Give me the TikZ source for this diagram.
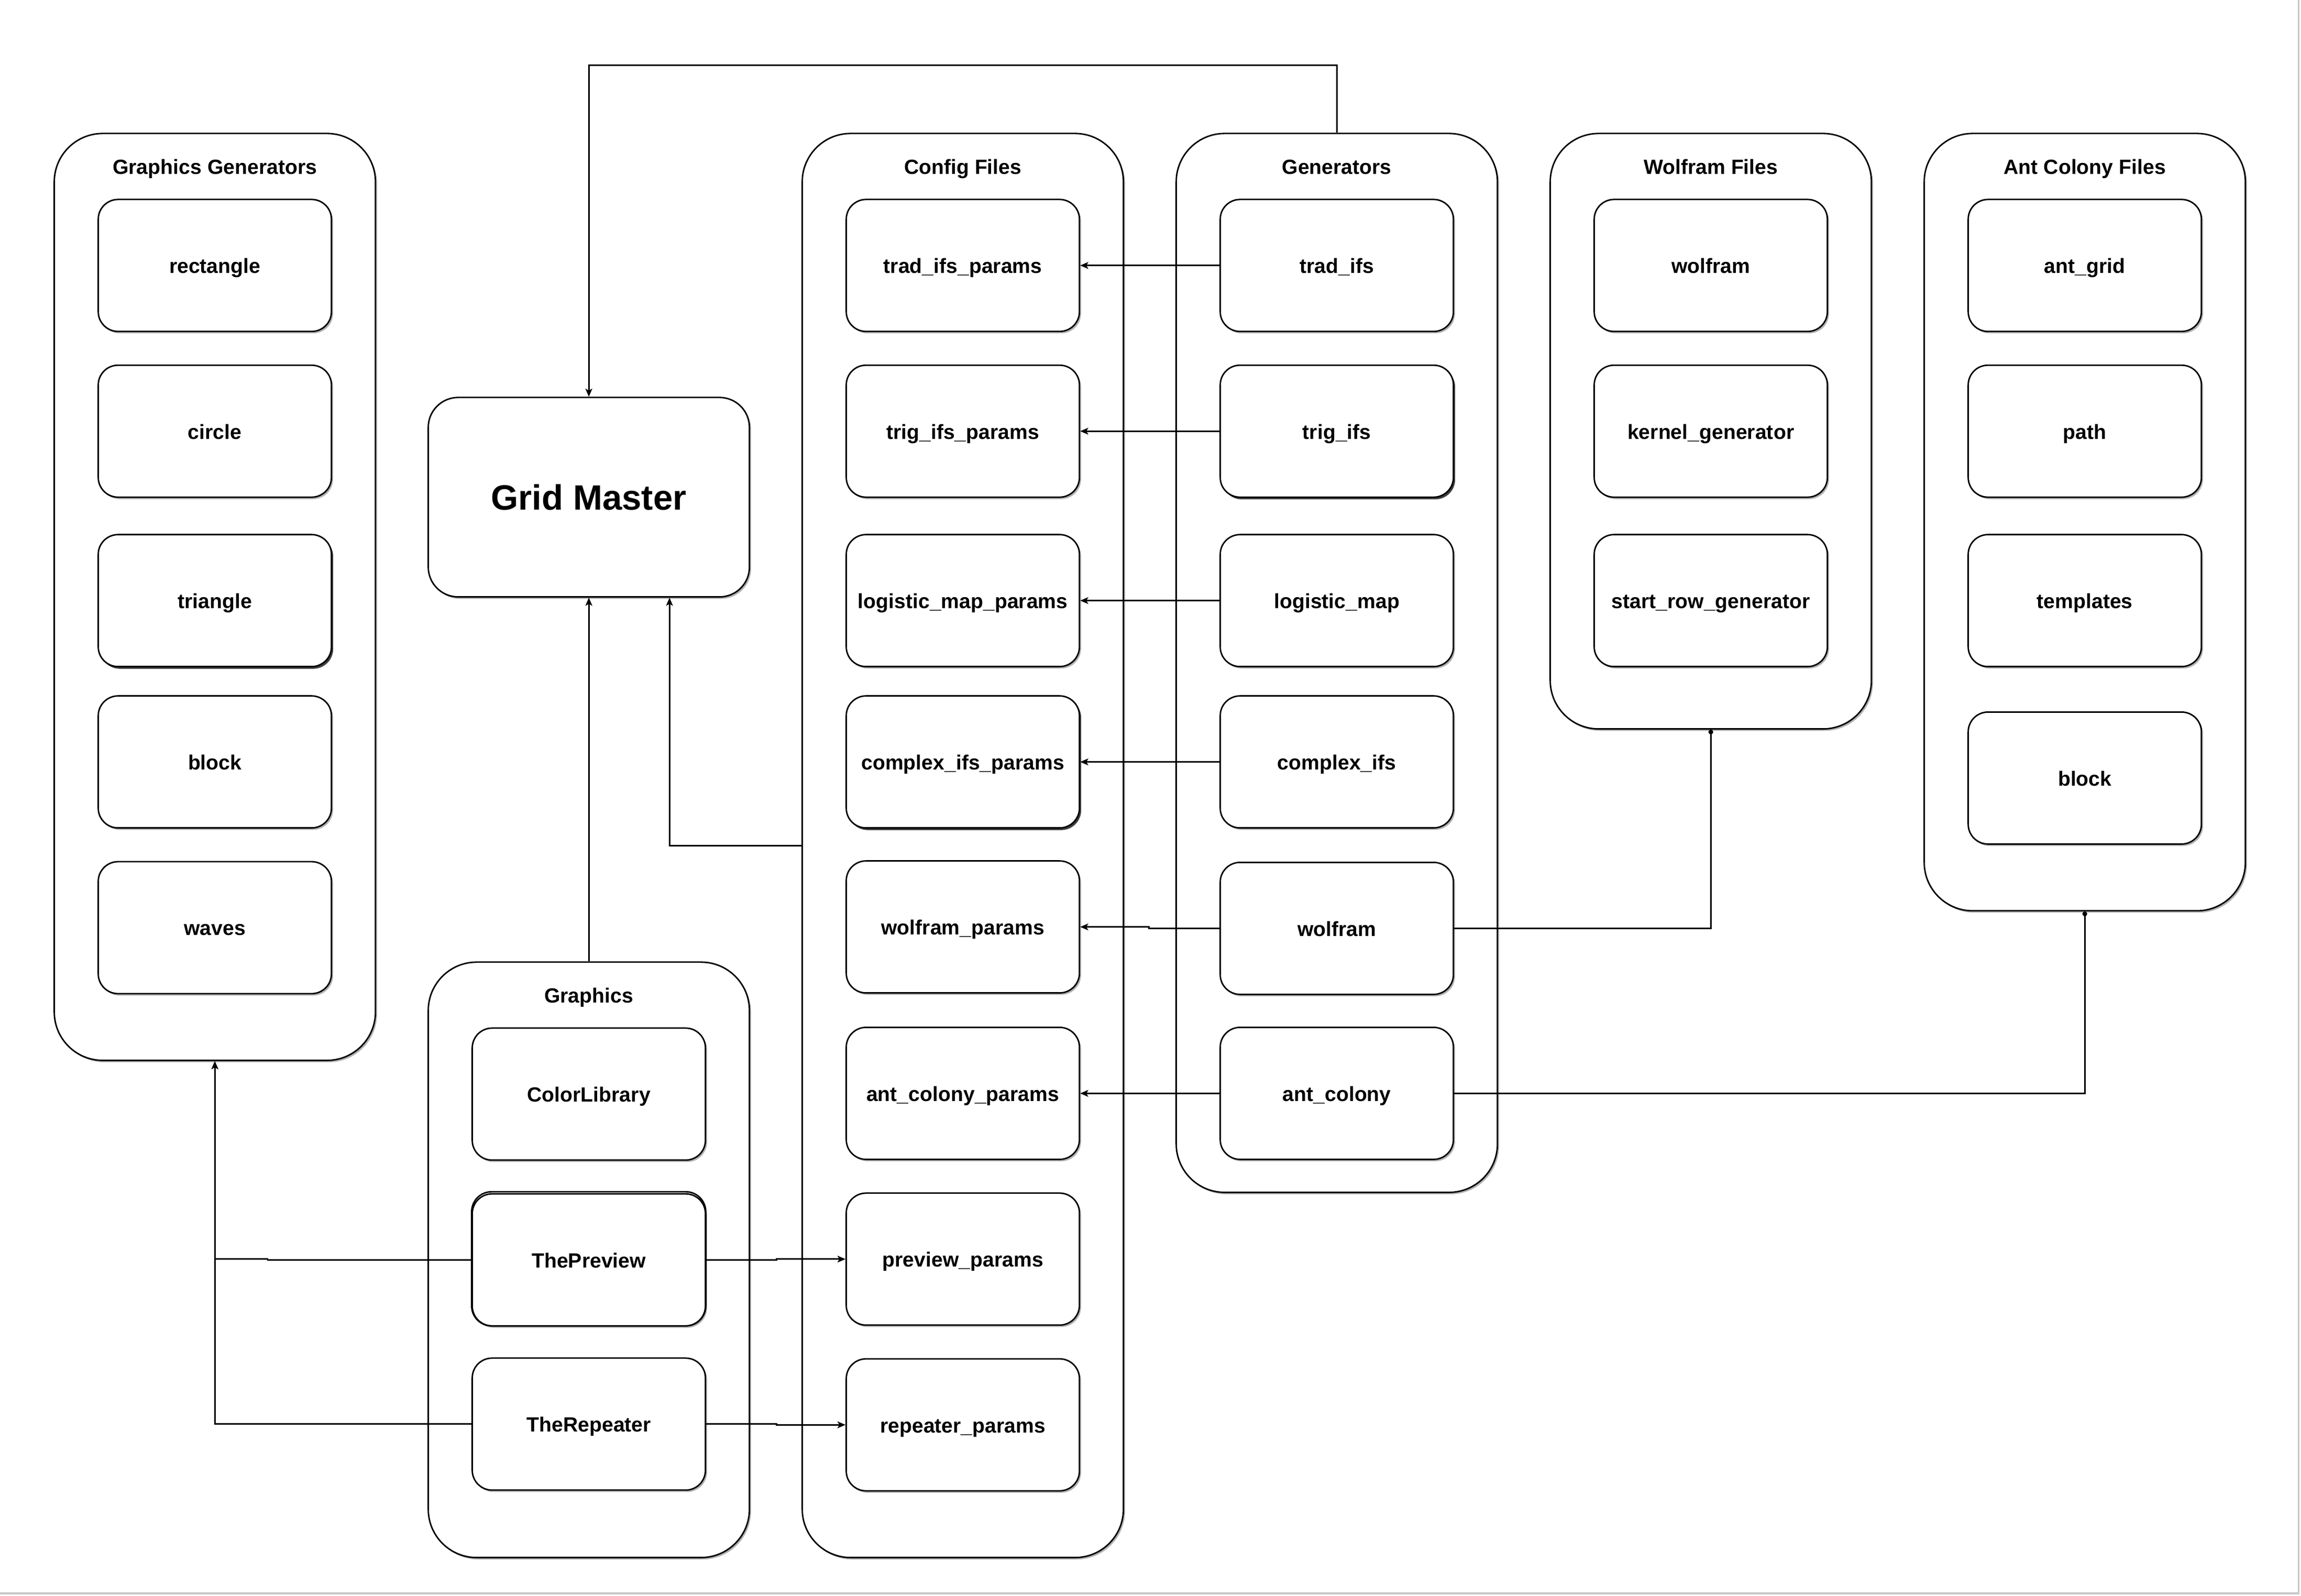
\documentclass[tikz,border=0pt]{standalone}
\usepackage{fontspec}
\setmainfont{Liberation Sans}
\usetikzlibrary{arrows.meta,shadows,calc}
\begin{document}
\begin{tikzpicture}[x=1pt,y=-1pt,
  rbox/.style={draw=black, line width=1pt, fill=white, rounded corners=#1, inner sep=0pt,
     drop shadow={shadow xshift=1.1pt, shadow yshift=-1.3pt, opacity=0.3, fill=black}},
  cbox/.style={rbox=13.5pt, minimum width=159pt, minimum height=90pt,
     font=\fontsize{14}{16}\selectfont\bfseries, text height=11.8pt, text depth=1.2pt},
  darksh/.style={drop shadow={shadow xshift=1.2pt, shadow yshift=-1.5pt, opacity=0.65, fill=black}},
  cont/.style={rbox=33pt, minimum width=219pt, minimum height=#1},
  ttl/.style={font=\fontsize{14}{16}\selectfont\bfseries, inner sep=0pt,
     text height=11.8pt, text depth=1.2pt},
  conn/.style={draw=black, line width=1pt},
  arr/.style={conn, -{Stealth[length=5.5pt, width=4.6pt, inset=1.3pt]}},
  dotend/.style={conn, -{Circle[length=3.2pt]}}
]
\useasboundingbox (0,0) rectangle (1568.93,1087.86);
\fill[white] (0,0) rectangle (1568.93,1087.86);
% page frame
\draw[color=black!22, line width=1.1pt] (0,1086.4) -- (1567.4,1086.4) -- (1567.4,0);

% containers
\node[cont=632] (gg)  at (146.5,407)   {};
\node[cont=971] (cfg) at (656.5,576.5) {};
\node[cont=722] (gen) at (911.5,452)   {};
\node[cont=406] (wf)  at (1166.5,294)  {};
\node[cont=530] (ac)  at (1421.5,356)  {};
\node[cont=406] (gfx) at (401.5,859)   {};
\node[rbox=20.4pt, minimum width=219pt, minimum height=136pt,
      font=\fontsize{24}{28}\selectfont\bfseries] (gm) at (401.5,339) {Grid Master};

% titles
\node[ttl] (ggt)  at (146.5,113.5)  {Graphics Generators};
\node[ttl] (cfgt) at (656.5,113.5)  {Config Files};
\node[ttl] (gent) at (911.5,113.5)  {Generators};
\node[ttl] (wft)  at (1166.5,113.5) {Wolfram Files};
\node[ttl] (act)  at (1421.5,113.5) {Ant Colony Files};
\node[ttl] (gfxt) at (401.5,678.5)  {Graphics};

% Graphics Generators
\node[cbox] (g-rect) at (146.5,181)   {rectangle};
\node[cbox] (g-circ) at (146.5,294)   {circle};
\node[cbox, darksh] (g-tri)  at (146.5,409.5) {triangle};
\node[cbox] (g-blk)  at (146.5,519.5) {block};
\node[cbox] (g-wav)  at (146.5,632.5) {waves};

% Config Files
\node[cbox] (c1) at (656.5,181)   {trad\_ifs\_params};
\node[cbox] (c2) at (656.5,294)   {trig\_ifs\_params};
\node[cbox] (c3) at (656.5,409.5) {logistic\_map\_params};
\node[cbox, darksh] (c4) at (656.5,519.5) {complex\_ifs\_params};
\node[cbox] (c5) at (656.5,632)   {wolfram\_params};
\node[cbox] (c6) at (656.5,745.5) {ant\_colony\_params};
\node[cbox] (c7) at (656.5,858.5) {preview\_params};
\node[cbox] (c8) at (656.5,971.5) {repeater\_params};

% Generators
\node[cbox] (n1) at (911.5,181)   {trad\_ifs};
\node[cbox, darksh] (n2) at (911.5,294)   {trig\_ifs};
\node[cbox] (n3) at (911.5,409.5) {logistic\_map};
\node[cbox] (n4) at (911.5,519.5) {complex\_ifs};
\node[cbox] (n5) at (911.5,633)   {wolfram};
\node[cbox] (n6) at (911.5,745.5) {ant\_colony};

% Wolfram Files
\node[cbox] (w1) at (1166.5,181)   {wolfram};
\node[cbox] (w2) at (1166.5,294)   {kernel\_generator};
\node[cbox] (w3) at (1166.5,409.5) {start\_row\_generator};

% Ant Colony Files
\node[cbox] (a1) at (1421.5,181)   {ant\_grid};
\node[cbox] (a2) at (1421.5,294)   {path};
\node[cbox] (a3) at (1421.5,409.5) {templates};
\node[cbox] (a4) at (1421.5,530.5) {block};

% Graphics
\node[cbox] (p0) at (401.5,746) {ColorLibrary};
\draw[line width=1pt, rounded corners=13.5pt] (321.6,812.6) rectangle (481.2,904);
\node[cbox] (p1) at (401.5,859) {ThePreview};
\node[cbox] (p2) at (401.5,971) {TheRepeater};

% connectors
\coordinate (gm75) at ($(gm.south)!0.5!(gm.south east)$);
\draw[arr] (gen.north) -- ++(0,-46) -| (gm.north);
\draw[arr] (cfg.west) -| (gm75);
\draw[arr] (gfx.north) -- (gm.south);

\draw[arr] (n1.west) -- (c1.east);
\draw[arr] (n2.west) -- (c2.east);
\draw[arr] (n3.west) -- (c3.east);
\draw[arr] (n4.west) -- (c4.east);
\draw[arr] (n5.west) -- ++(-48,0) |- (c5.east);
\draw[arr] (n6.west) -- (c6.east);

\draw[dotend] (n5.east) -| (wf.south);
\draw[dotend] (n6.east) -| (ac.south);

\draw[arr] (p1.west) -- ++(-139,0) -- ++(0,-0.6) -| (gg.south);
\draw[arr] (p2.west) -| (gg.south);
\draw[arr] (p1.east) -- ++(48,0) |- (c7.west);
\draw[arr] (p2.east) -- ++(48,0) |- (c8.west);
\end{tikzpicture}
\end{document}
